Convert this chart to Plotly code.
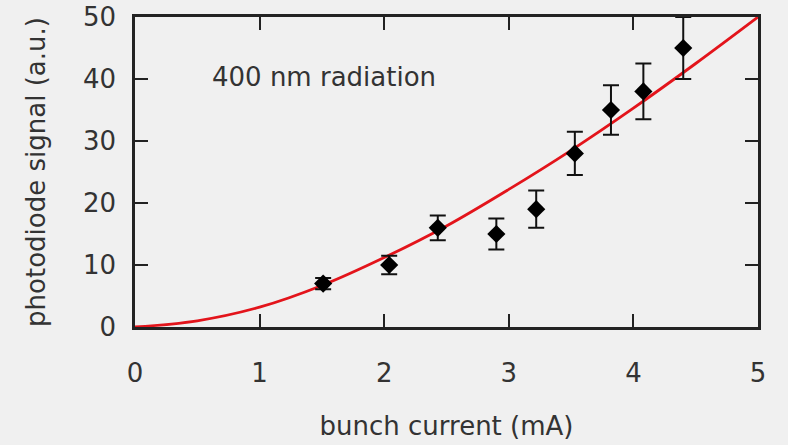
import plotly.graph_objects as go

# measured photodiode signal vs bunch current
current_mA = [1.51, 2.04, 2.43, 2.90, 3.22, 3.53, 3.82, 4.08, 4.40]
signal_au = [7.0, 10.0, 16.0, 15.0, 19.0, 28.0, 35.0, 38.0, 45.0]
signal_err = [0.9, 1.5, 2.0, 2.5, 3.0, 3.5, 4.0, 4.5, 5.0]

# fitted curve, sampled
fit_x = [0, 0.5, 1.0, 1.5, 2.0, 2.5, 3.0, 3.5, 4.0, 4.5, 5.0]
fit_y = [0, 1.0, 3.2, 6.7, 11.2, 16.3, 22.2, 28.5, 35.3, 42.5, 50.0]

x_ticks = [0, 1, 2, 3, 4, 5]
y_ticks = [0, 10, 20, 30, 40, 50]

FONT = "DejaVu Sans"
FS = 26
TEXT = "#333333"
AXIS = "#222222"
BG = "#f0f0f0"

fig = go.Figure()

fig.add_trace(go.Scatter(
    x=fit_x, y=fit_y, mode="lines",
    line=dict(color="#e3141b", width=2.8, shape="spline", smoothing=1.0),
    hoverinfo="skip", showlegend=False, cliponaxis=True,
))

fig.add_trace(go.Scatter(
    x=current_mA, y=signal_au, mode="markers",
    marker=dict(symbol="diamond", size=14, color="#000000"),
    error_y=dict(type="data", array=signal_err, visible=True,
                 color="#111111", thickness=2, width=8),
    showlegend=False, cliponaxis=False,
))

axis_common = dict(
    showline=True, linecolor=AXIS, linewidth=2.5, mirror="ticks",
    ticks="inside", ticklen=13, tickwidth=2, tickcolor=AXIS,
    showgrid=False, zeroline=False, automargin=False,
    tickfont=dict(family=FONT, size=FS, color=TEXT),
    title_font=dict(family=FONT, size=FS, color=TEXT),
)

fig.update_xaxes(
    range=[0, 5], tickvals=x_ticks, ticktext=[str(v) for v in x_ticks],
    title_text="bunch current (mA)", title_standoff=30,
    ticklabelstandoff=21, **axis_common,
)
fig.update_yaxes(
    range=[0, 50], tickvals=y_ticks, ticktext=[str(v) for v in y_ticks],
    title_text="photodiode signal (a.u.)", title_standoff=30,
    ticklabelstandoff=11, **axis_common,
)

fig.add_annotation(
    x=0.6, y=40.3, xref="x", yref="y", text="400 nm radiation",
    showarrow=False, xanchor="left", yanchor="middle",
    font=dict(family=FONT, size=FS, color=TEXT),
)

fig.update_layout(
    width=788, height=445,
    margin=dict(l=135, r=30, t=17, b=118),
    paper_bgcolor=BG, plot_bgcolor=BG,
)

fig.write_html("out.html")
